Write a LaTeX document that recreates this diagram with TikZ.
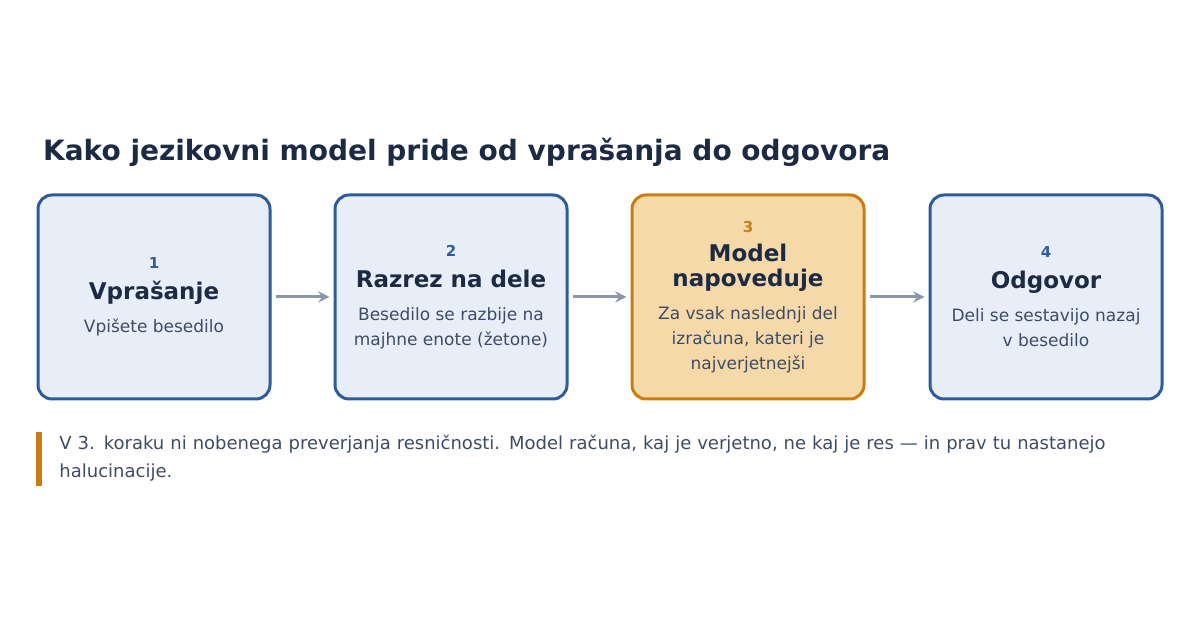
\documentclass[tikz,border=0pt]{standalone}
\usepackage{fontspec}
\setmainfont{DejaVu Sans}
\usetikzlibrary{positioning}
\definecolor{boxfill}{HTML}{E8EEF8}
\definecolor{boxline}{HTML}{2E5C9A}
\definecolor{hotfill}{HTML}{F5D9A8}
\definecolor{hotline}{HTML}{C97C12}
\definecolor{ink}{HTML}{1C2A44}
\definecolor{soft}{HTML}{3D4C66}
\definecolor{arrowgray}{HTML}{8A96AD}
\newcommand{\stepnum}[1]{{\fontsize{7.5}{9}\selectfont\bfseries #1}}
\newcommand{\stephead}[1]{{\fontsize{11.5}{14}\selectfont\bfseries\color{ink} #1}}
\tikzset{
  stage/.style = {draw=boxline, fill=boxfill, line width=1.5pt, rounded corners=7pt,
    minimum width=116pt, minimum height=102pt, align=center, text=soft,
    font=\fontsize{8.5}{12.5}\selectfont, inner sep=0pt},
  hot/.style = {stage, draw=hotline, fill=hotfill},
  flow/.style = {->, >=stealth, arrowgray, line width=1.5pt, shorten >=2pt, shorten <=2pt}
}
\begin{document}
\begin{tikzpicture}[x=0.5pt,y=-0.5pt]
  \useasboundingbox (0,0) rectangle (1200,624);
  \node[anchor=west, font=\fontsize{14}{17}\selectfont\bfseries, text=ink] (title) at (36,152)
    {Kako jezikovni model pride od vprašanja do odgovora};
  \node[stage] (ask) at (154,297)
    {\textcolor{boxline}{\stepnum{1}}\\[3pt]\stephead{Vprašanje}\\[4pt]Vpišete besedilo};
  \node[stage] (split) at (451,297)
    {\textcolor{boxline}{\stepnum{2}}\\[3pt]\stephead{Razrez na dele}\\[4pt]Besedilo se razbije na\\majhne enote (žetone)};
  \node[hot] (guess) at (748,297)
    {\textcolor{hotline}{\stepnum{3}}\\[2pt]\stephead{Model}\\\stephead{napoveduje}\\[4pt]Za vsak naslednji del\\izračuna, kateri je\\najverjetnejši};
  \node[stage] (answer) at (1046,297)
    {\textcolor{boxline}{\stepnum{4}}\\[3pt]\stephead{Odgovor}\\[4pt]Deli se sestavijo nazaj\\v besedilo};
  \draw[flow] (ask) -- (split);
  \draw[flow] (split) -- (guess);
  \draw[flow] (guess) -- (answer);
  % note
  \fill[hotline] (36,432) rectangle (42,486);
  \node[anchor=north west, text width=540pt, align=left, inner sep=0pt, text=soft,
    font=\fontsize{9}{14}\selectfont] (note) at (59,435)
    {V 3. koraku ni nobenega preverjanja resničnosti. Model računa, kaj je verjetno, ne kaj je res — in prav tu nastanejo halucinacije.};
\end{tikzpicture}
\end{document}
